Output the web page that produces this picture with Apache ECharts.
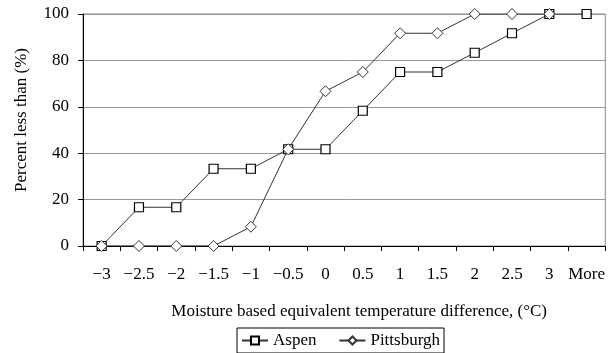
<!DOCTYPE html>
<html>
<head>
<meta charset="utf-8">
<script src="https://cdn.jsdelivr.net/npm/echarts@6/dist/echarts.min.js"></script>
<style>
html, body { margin: 0; padding: 0; background: #fff; }
#chart { width: 608px; height: 353px; }
</style>
</head>
<body>
<div id="chart"></div>
<script>
// bins of the temperature difference
var categories = ['\u22123', '\u22122.5', '\u22122', '\u22121.5', '\u22121', '\u22120.5', '0', '0.5', '1', '1.5', '2', '2.5', '3', 'More'];
var aspen = [0, 16.7, 16.7, 33.3, 33.3, 41.7, 41.7, 58.3, 75, 75, 83.3, 91.7, 100, 100];
var pittsburgh = [0, 0, 0, 0, 8.3, 41.7, 66.7, 75, 91.7, 91.7, 100, 100, 100, null];
var yTicks = { min: 0, max: 100, step: 20 };

var chart = echarts.init(document.getElementById('chart'));
var font = '"Liberation Serif", serif';

var option = {
    animation: false,
    textStyle: { fontFamily: font, color: '#000' },
    grid: { left: 83, right: 2, top: 14, bottom: 107, show: true, borderColor: '#888', borderWidth: 1 },
    legend: {
        bottom: 0,
        left: 237,
        data: ['Aspen', 'Pittsburgh'],
        borderColor: '#000',
        borderWidth: 1,
        padding: [4, 4, 4, 4],
        itemGap: 22,
        itemWidth: 26,
        itemHeight: 10,
        formatter: '{s|{name}}',
        textStyle: {
            fontFamily: font, fontSize: 17, color: '#000',
            rich: { s: { fontFamily: font, fontSize: 17, color: '#000' } }
        }
    },
    xAxis: {
        type: 'category',
        data: categories,
        boundaryGap: true,
        name: 'Moisture based equivalent temperature difference, (\u00b0C)',
        nameLocation: 'middle',
        nameGap: 57,
        nameTextStyle: { fontFamily: font, fontSize: 17, color: '#000', padding: [0, 0, 0, 30] },
        axisLine: { lineStyle: { color: '#000', width: 1 } },
        axisTick: { show: true, length: 5, lineStyle: { color: '#000' } },
        axisLabel: { fontFamily: font, fontSize: 17, color: '#000', margin: 20, interval: 0 }
    },
    yAxis: {
        type: 'value',
        min: yTicks.min,
        max: yTicks.max,
        interval: yTicks.step,
        name: 'Percent less than (%)',
        nameLocation: 'middle',
        nameGap: 53,
        nameRotate: 90,
        nameTextStyle: { fontFamily: font, fontSize: 17, color: '#000', padding: [0, 0, 0, 20] },
        axisLine: { show: true, lineStyle: { color: '#000', width: 1 } },
        axisTick: { show: true, length: 5, lineStyle: { color: '#000' } },
        axisLabel: { fontFamily: font, fontSize: 17, color: '#000', margin: 14 },
        splitLine: { lineStyle: { color: '#999', width: 1 } }
    },
    series: [
        {
            name: 'Aspen',
            type: 'line',
            data: aspen,
            symbol: 'rect',
            symbolSize: 9,
            lineStyle: { color: '#333', width: 1 },
            itemStyle: { color: '#fff', borderColor: '#000', borderWidth: 1.2 }
        },
        {
            name: 'Pittsburgh',
            type: 'line',
            data: pittsburgh,
            symbol: 'diamond',
            symbolSize: [11, 11],
            lineStyle: { color: '#333', width: 1 },
            itemStyle: { color: '#fff', borderColor: '#333', borderWidth: 1 }
        }
    ]
};

chart.setOption(option);
</script>
</body>
</html>
